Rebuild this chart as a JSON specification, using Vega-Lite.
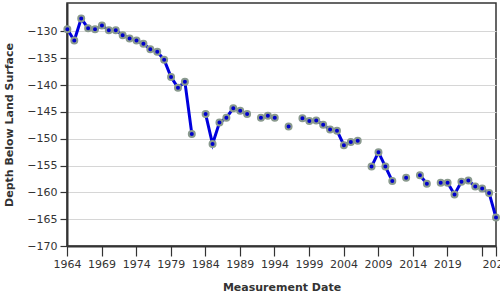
{
  "$schema": "https://vega.github.io/schema/vega-lite/v6.json",
  "autosize": "none",
  "width": 429,
  "height": 243,
  "padding": {"left": 67, "top": 3, "right": 4, "bottom": 54},
  "background": "white",
  "config": {
    "view": {"stroke": "#333333", "strokeWidth": 1.5},
    "font": "DejaVu Sans",
    "axis": {
      "labelFont": "DejaVu Sans",
      "labelFontSize": 11,
      "labelColor": "#333333",
      "titleFont": "DejaVu Sans",
      "titleFontSize": 11,
      "titleFontWeight": "bold",
      "titleColor": "#333333",
      "domainColor": "#333333",
      "domainWidth": 2,
      "tickColor": "#333333",
      "tickWidth": 1.2
    }
  },
  "data": {
    "values": [
      {"date": "1964-01-20", "depth": -129.6},
      {"date": "1965-01-20", "depth": -131.7},
      {"date": "1966-01-20", "depth": -127.6},
      {"date": "1967-01-20", "depth": -129.4},
      {"date": "1968-01-20", "depth": -129.6},
      {"date": "1969-01-20", "depth": -128.9},
      {"date": "1970-01-20", "depth": -129.8},
      {"date": "1971-01-20", "depth": -129.8},
      {"date": "1972-01-20", "depth": -130.7},
      {"date": "1973-01-20", "depth": -131.3},
      {"date": "1974-01-20", "depth": -131.7},
      {"date": "1975-01-20", "depth": -132.3},
      {"date": "1976-01-20", "depth": -133.3},
      {"date": "1977-01-20", "depth": -133.8},
      {"date": "1978-01-20", "depth": -135.3},
      {"date": "1979-01-20", "depth": -138.5},
      {"date": "1980-01-20", "depth": -140.5},
      {"date": "1981-01-20", "depth": -139.4},
      {"date": "1982-01-20", "depth": -149.1},
      {"date": "1983-01-20", "depth": null},
      {"date": "1984-01-20", "depth": -145.4},
      {"date": "1985-01-20", "depth": -151.0},
      {"date": "1986-01-20", "depth": -147.0},
      {"date": "1987-01-20", "depth": -146.1},
      {"date": "1988-01-20", "depth": -144.3},
      {"date": "1989-01-20", "depth": -144.8},
      {"date": "1990-01-20", "depth": -145.4},
      {"date": "1991-01-20", "depth": null},
      {"date": "1992-01-20", "depth": -146.1},
      {"date": "1993-01-20", "depth": -145.7},
      {"date": "1994-01-20", "depth": -146.1},
      {"date": "1995-01-20", "depth": null},
      {"date": "1996-01-20", "depth": -147.7},
      {"date": "1997-01-20", "depth": null},
      {"date": "1998-01-20", "depth": -146.2},
      {"date": "1999-01-20", "depth": -146.7},
      {"date": "2000-01-20", "depth": -146.6},
      {"date": "2001-01-20", "depth": -147.4},
      {"date": "2002-01-20", "depth": -148.3},
      {"date": "2003-01-20", "depth": -148.5},
      {"date": "2004-01-20", "depth": -151.2},
      {"date": "2005-01-20", "depth": -150.6},
      {"date": "2006-01-20", "depth": -150.4},
      {"date": "2007-01-20", "depth": null},
      {"date": "2008-01-20", "depth": -155.2},
      {"date": "2009-01-20", "depth": -152.5},
      {"date": "2010-01-20", "depth": -155.2},
      {"date": "2011-01-20", "depth": -157.9},
      {"date": "2012-01-20", "depth": null},
      {"date": "2013-01-20", "depth": -157.3},
      {"date": "2014-01-20", "depth": null},
      {"date": "2015-01-20", "depth": -156.8},
      {"date": "2016-01-20", "depth": -158.4},
      {"date": "2017-01-20", "depth": null},
      {"date": "2018-01-20", "depth": -158.2},
      {"date": "2019-01-20", "depth": -158.2},
      {"date": "2020-01-20", "depth": -160.4},
      {"date": "2021-01-20", "depth": -158.0},
      {"date": "2022-01-20", "depth": -157.8},
      {"date": "2023-01-20", "depth": -158.9},
      {"date": "2024-01-20", "depth": -159.3},
      {"date": "2025-01-20", "depth": -160.1},
      {"date": "2026-01-20", "depth": -164.7}
    ]
  },
  "encoding": {
    "x": {
      "field": "date",
      "type": "temporal",
      "title": "Measurement Date",
      "scale": {"domain": [{"year": 1964, "month": 1, "date": 1}, {"year": 2026, "month": 1, "date": 20}], "nice": false},
      "axis": {
        "values": [
          {"year": 1964, "month": 1, "date": 1},
          {"year": 1969, "month": 1, "date": 1},
          {"year": 1974, "month": 1, "date": 1},
          {"year": 1979, "month": 1, "date": 1},
          {"year": 1984, "month": 1, "date": 1},
          {"year": 1989, "month": 1, "date": 1},
          {"year": 1994, "month": 1, "date": 1},
          {"year": 1999, "month": 1, "date": 1},
          {"year": 2004, "month": 1, "date": 1},
          {"year": 2009, "month": 1, "date": 1},
          {"year": 2014, "month": 1, "date": 1},
          {"year": 2019, "month": 1, "date": 1},
          {"year": 2024, "month": 1, "date": 1},
          {"year": 2026, "month": 1, "date": 20}
        ],
        "format": "%Y",
        "labelExpr": "year(datum.value) == 2024 ? '' : datum.label",
        "labelFlush": false,
        "labelOverlap": false,
        "grid": false,
        "tickSize": 10,
        "labelPadding": 2,
        "titlePadding": 12
      }
    },
    "y": {
      "field": "depth",
      "type": "quantitative",
      "title": "Depth Below Land Surface",
      "scale": {"domain": [-170, -124.7], "nice": false, "zero": false},
      "axis": {
        "values": [-170, -165, -160, -155, -150, -145, -140, -135, -130],
        "grid": true,
        "gridColor": "#d6d6d6",
        "gridWidth": 1,
        "tickSize": 7,
        "labelPadding": 3,
        "titlePadding": 12
      }
    }
  },
  "layer": [
    {
      "mark": {"type": "line", "color": "#0000dd", "strokeWidth": 3, "invalid": "break-paths-filter-domains"}
    },
    {
      "mark": {"type": "point", "shape": "circle", "filled": true, "fill": "#0000cc", "stroke": "#8a9a8e", "strokeWidth": 2, "size": 36, "opacity": 1}
    }
  ]
}
